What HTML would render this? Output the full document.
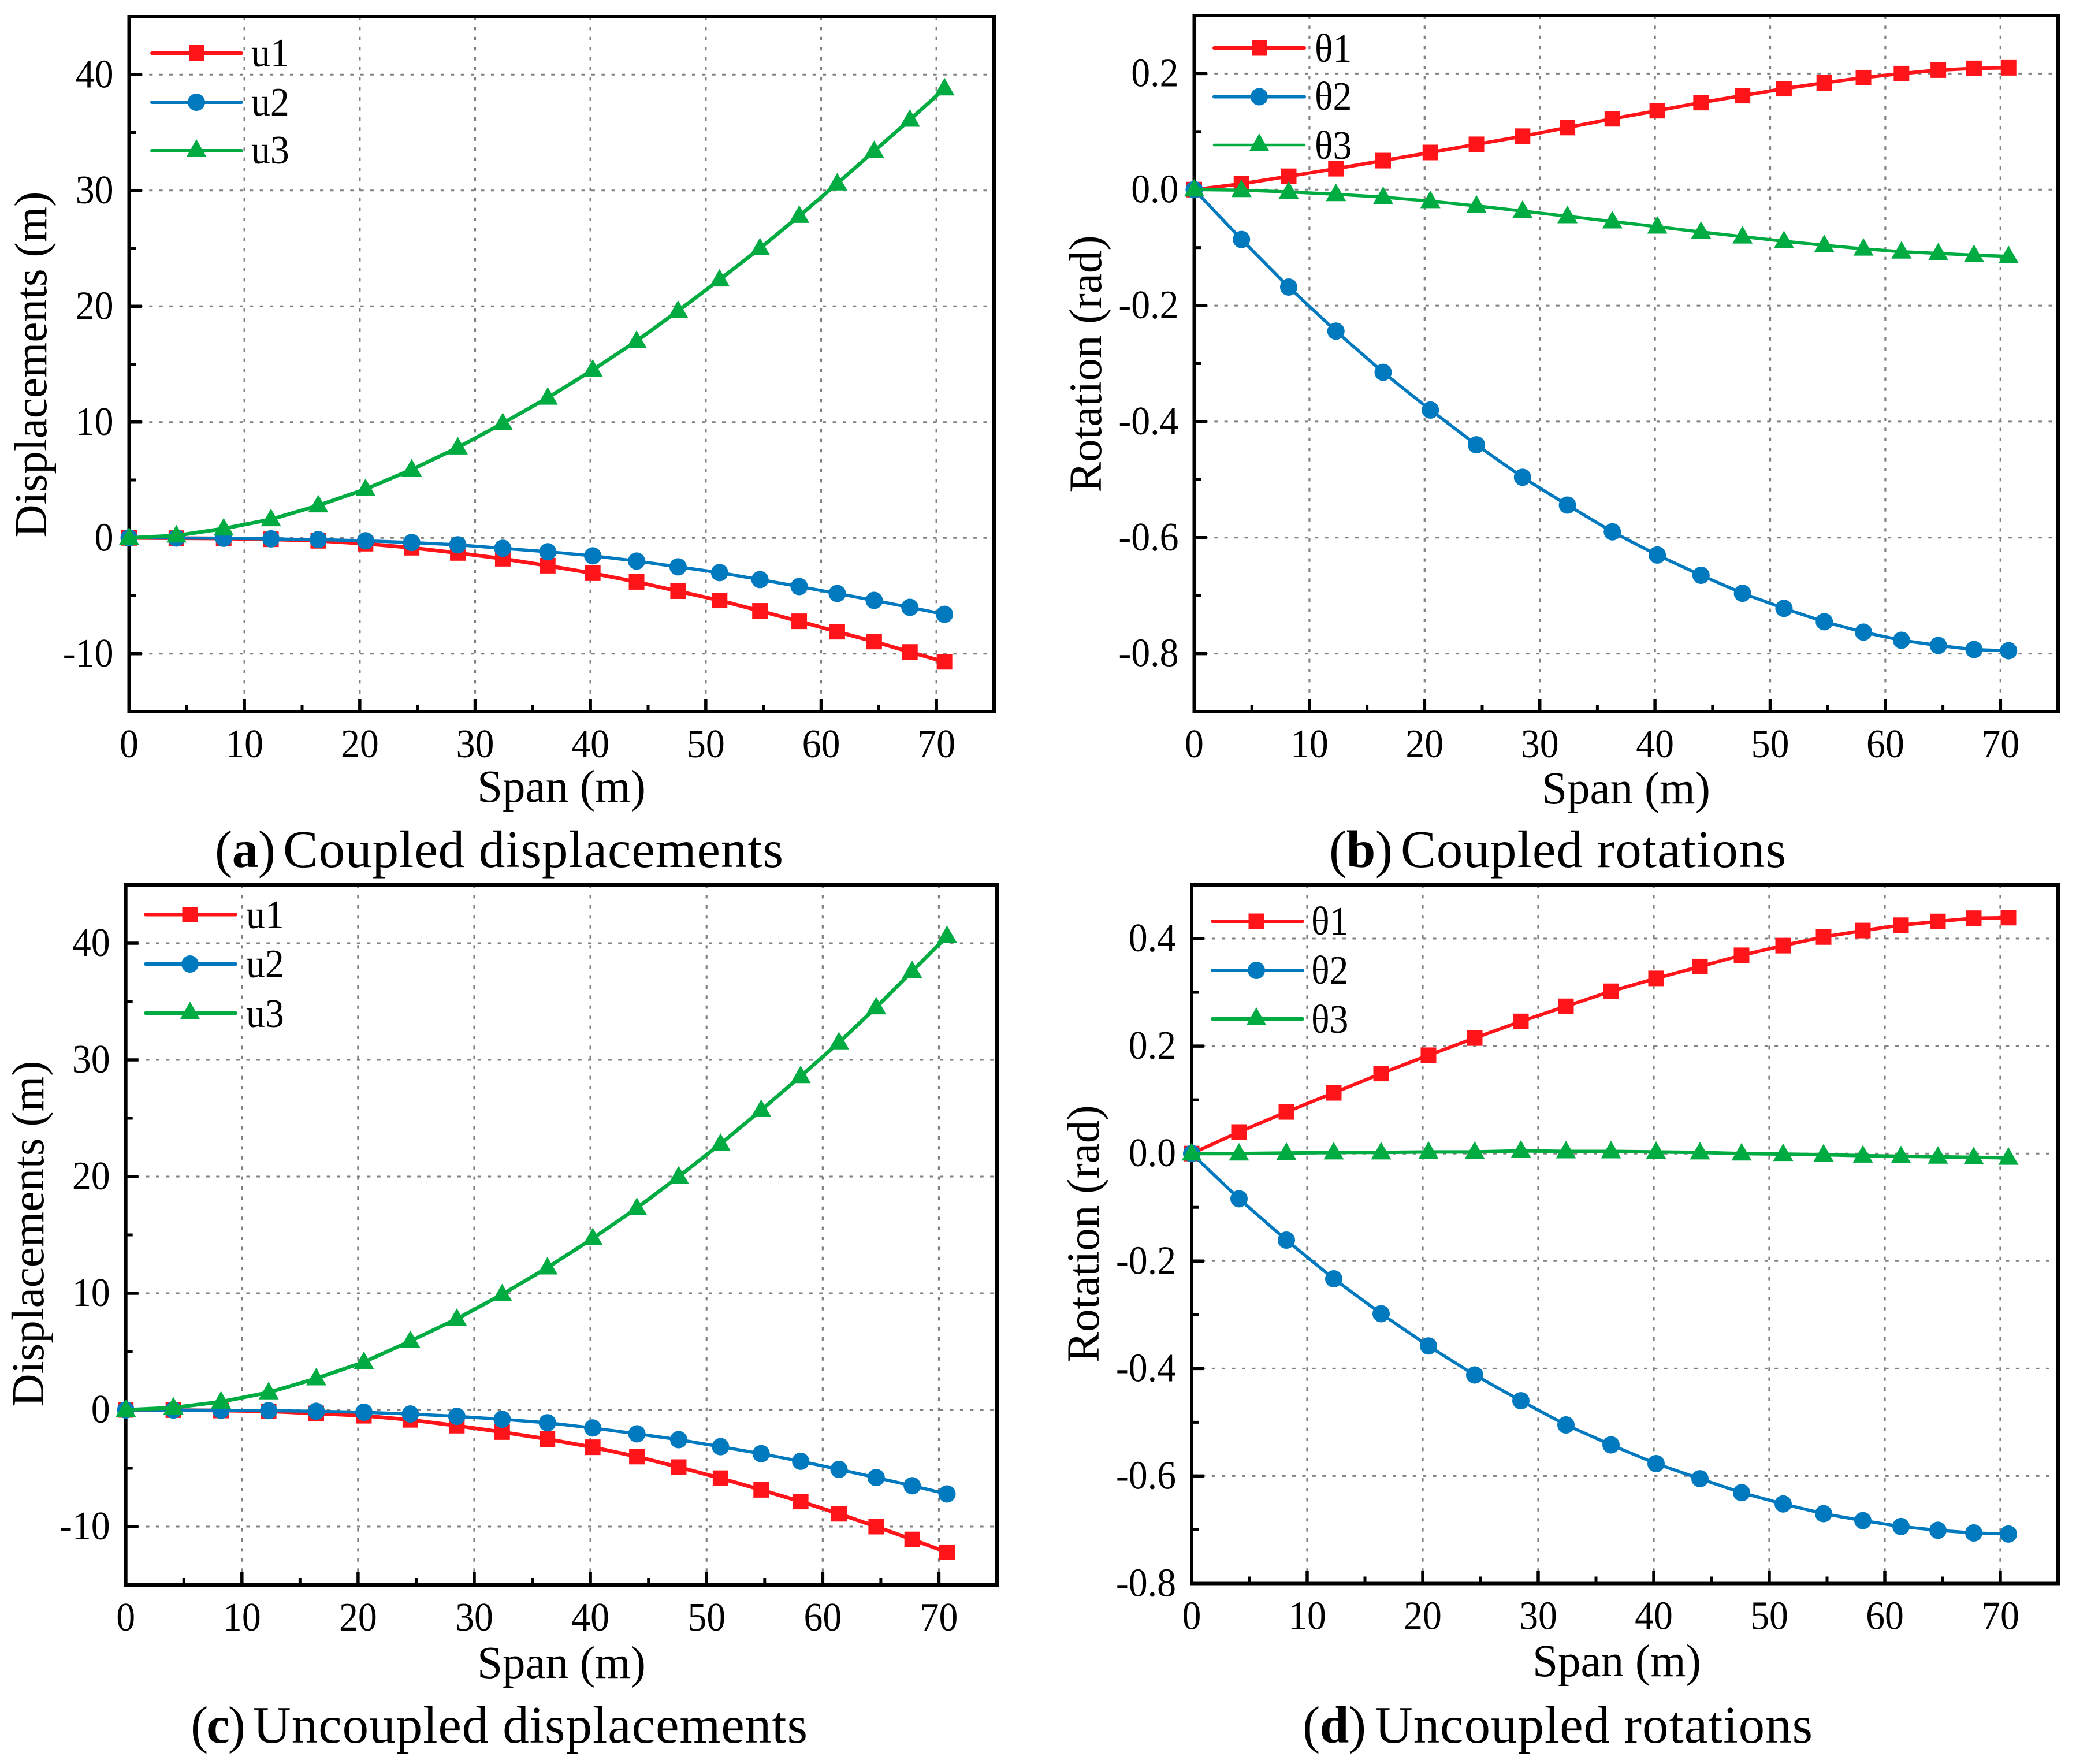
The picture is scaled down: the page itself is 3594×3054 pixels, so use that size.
<!DOCTYPE html>
<html lang="en">
<head>
<meta charset="utf-8">
<title>Coupled and uncoupled displacements and rotations</title>
<style>
html,body{margin:0;padding:0;background:#fff;}
svg{display:block;font-family:"Liberation Serif","Noto Serif CJK SC",serif;fill:#000;}
.axis-title{font-size:79px;}
.legend-text{font-size:70px;}
.caption{font-size:91px;}
</style>
</head>
<body>
<svg id="figure" xmlns="http://www.w3.org/2000/svg" width="3594" height="3054" viewBox="0 0 3594 3054">
<rect x="0" y="0" width="3594" height="3054" fill="#ffffff"/>

<g>
  <g id="a-grid"></g>
  <rect x="223.5" y="29" width="1497.5" height="1203" fill="none" stroke="#000" stroke-width="6"/>
  <g id="a-plot"></g>
  <text class="axis-title" x="972" y="1388" text-anchor="middle">Span (m)</text>
  <text class="axis-title" text-anchor="middle" transform="translate(80 631) rotate(-90)">Displacements (m)</text>
  <text class="caption" x="372" y="1501" textLength="105">(<tspan font-weight="700">a</tspan>)</text>
  <text class="caption" x="490" y="1501" textLength="866">Coupled displacements</text>
  <g>
    <g>
      <line x1="263" x2="418" y1="92" y2="92" stroke="#ff1519" stroke-width="6" stroke-linecap="round"/>
      <rect x="327" y="78" width="27" height="27" fill="#ff1519"/>
      <text class="legend-text" transform="translate(435 115) scale(.94 1)">u1</text>
    </g>
    <g>
      <line x1="263" x2="418" y1="177" y2="177" stroke="#0079bf" stroke-width="6" stroke-linecap="round"/>
      <circle cx="340" cy="177" r="15" fill="#0079bf"/>
      <text class="legend-text" transform="translate(435 200) scale(.94 1)">u2</text>
    </g>
    <g>
      <line x1="263" x2="418" y1="261" y2="261" stroke="#00ab41" stroke-width="6" stroke-linecap="round"/>
      <polygon points="340,241 357.500,272 322.500,272" fill="#00ab41"/>
      <text class="legend-text" transform="translate(435 283) scale(.94 1)">u3</text>
    </g>
  </g>
</g>

<g>
  <g id="b-grid"></g>
  <rect x="2067.5" y="27" width="1495.5" height="1205" fill="none" stroke="#000" stroke-width="6"/>
  <g id="b-plot"></g>
  <text class="axis-title" x="2815" y="1391" text-anchor="middle">Span (m)</text>
  <text class="axis-title" text-anchor="middle" transform="translate(1906 630) rotate(-90)">Rotation (rad)</text>
  <text class="caption" x="2301" y="1501" textLength="110">(<tspan font-weight="700">b</tspan>)</text>
  <text class="caption" x="2425" y="1501" textLength="667">Coupled rotations</text>
  <g>
    <g>
      <line x1="2102" x2="2258" y1="83" y2="83" stroke="#ff1519" stroke-width="6" stroke-linecap="round"/>
      <rect x="2167" y="69.500" width="27" height="27" fill="#ff1519"/>
      <text class="legend-text" transform="translate(2276 107) scale(.94 1)">θ1</text>
    </g>
    <g>
      <line x1="2102" x2="2258" y1="167.500" y2="167.500" stroke="#0079bf" stroke-width="6" stroke-linecap="round"/>
      <circle cx="2180" cy="167.500" r="15" fill="#0079bf"/>
      <text class="legend-text" transform="translate(2276 190) scale(.94 1)">θ2</text>
    </g>
    <g>
      <line x1="2102" x2="2258" y1="251" y2="251" stroke="#00ab41" stroke-width="4.500" stroke-linecap="round"/>
      <polygon points="2180,231 2197.500,262 2162.500,262" fill="#00ab41"/>
      <text class="legend-text" transform="translate(2276 275) scale(.94 1)">θ3</text>
    </g>
  </g>
</g>

<g>
  <g id="c-grid"></g>
  <rect x="217.7" y="1532" width="1508.3" height="1212" fill="none" stroke="#000" stroke-width="6"/>
  <g id="c-plot"></g>
  <text class="axis-title" x="972" y="2905" text-anchor="middle">Span (m)</text>
  <text class="axis-title" text-anchor="middle" transform="translate(75 2136) rotate(-90)">Displacements (m)</text>
  <text class="caption" x="330" y="3017" textLength="95">(<tspan font-weight="700">c</tspan>)</text>
  <text class="caption" x="438" y="3017" textLength="960">Uncoupled displacements</text>
  <g>
    <g>
      <line x1="252" x2="408" y1="1583.500" y2="1583.500" stroke="#ff1519" stroke-width="6" stroke-linecap="round"/>
      <rect x="315.500" y="1570" width="27" height="27" fill="#ff1519"/>
      <text class="legend-text" transform="translate(426 1607) scale(.94 1)">u1</text>
    </g>
    <g>
      <line x1="252" x2="408" y1="1669" y2="1669" stroke="#0079bf" stroke-width="6" stroke-linecap="round"/>
      <circle cx="329" cy="1669" r="15" fill="#0079bf"/>
      <text class="legend-text" transform="translate(426 1692) scale(.94 1)">u2</text>
    </g>
    <g>
      <line x1="252" x2="408" y1="1754" y2="1754" stroke="#00ab41" stroke-width="6" stroke-linecap="round"/>
      <polygon points="329,1734 346.500,1765 311.500,1765" fill="#00ab41"/>
      <text class="legend-text" transform="translate(426 1778) scale(.94 1)">u3</text>
    </g>
  </g>
</g>

<g>
  <g id="d-grid"></g>
  <rect x="2063" y="1532" width="1500" height="1209.500" fill="none" stroke="#000" stroke-width="6"/>
  <g id="d-plot"></g>
  <text class="axis-title" x="2799" y="2902" text-anchor="middle">Span (m)</text>
  <text class="axis-title" text-anchor="middle" transform="translate(1902 2136) rotate(-90)">Rotation (rad)</text>
  <text class="caption" x="2255" y="3017" textLength="110">(<tspan font-weight="700">d</tspan>)</text>
  <text class="caption" x="2380" y="3017" textLength="758">Uncoupled rotations</text>
  <g>
    <g>
      <line x1="2099" x2="2255" y1="1595" y2="1595" stroke="#ff1519" stroke-width="6" stroke-linecap="round"/>
      <rect x="2161.500" y="1581.500" width="27" height="27" fill="#ff1519"/>
      <text class="legend-text" transform="translate(2270 1618) scale(.94 1)">θ1</text>
    </g>
    <g>
      <line x1="2099" x2="2255" y1="1680" y2="1680" stroke="#0079bf" stroke-width="6" stroke-linecap="round"/>
      <circle cx="2175" cy="1680" r="15" fill="#0079bf"/>
      <text class="legend-text" transform="translate(2270 1703) scale(.94 1)">θ2</text>
    </g>
    <g>
      <line x1="2099" x2="2255" y1="1764" y2="1764" stroke="#00ab41" stroke-width="6" stroke-linecap="round"/>
      <polygon points="2175,1744 2192.500,1775 2157.500,1775" fill="#00ab41"/>
      <text class="legend-text" transform="translate(2270 1788) scale(.94 1)">θ3</text>
    </g>
  </g>
</g>
</svg>

<script>
// ---------- chart data ----------
const spanValues = [0,4.1,8.2,12.3,16.4,20.5,24.5,28.5,32.4,36.3,40.2,44,47.6,51.2,54.7,58.1,61.4,64.6,67.7,70.7];
const xTickValues = [0,10,20,30,40,50,60,70];
const xTickLabels = ['0','10','20','30','40','50','60','70'];
const xMinorValues = [5,15,25,35,45,55,65];

const dispTickValues = [-10,0,10,20,30,40];
const dispTickLabels = ['-10','0','10','20','30','40'];
const dispMinorValues = [-5,5,15,25,35];

const rotBTickValues = [-0.8,-0.6,-0.4,-0.2,0,0.2];
const rotBTickLabels = ['-0.8','-0.6','-0.4','-0.2','0.0','0.2'];
const rotBMinorValues = [-0.7,-0.5,-0.3,-0.1,0.1];

const rotDTickValues = [-0.8,-0.6,-0.4,-0.2,0,0.2,0.4];
const rotDTickLabels = ['-0.8','-0.6','-0.4','-0.2','0.0','0.2','0.4'];
const rotDMinorValues = [-0.7,-0.5,-0.3,-0.1,0.1,0.3];

const coupledU1 = [0,-0.02,-0.05,-0.12,-0.25,-0.5,-0.85,-1.3,-1.8,-2.4,-3.05,-3.8,-4.6,-5.4,-6.3,-7.2,-8.1,-8.95,-9.85,-10.7];
const coupledU2 = [0,-0.01,-0.03,-0.08,-0.15,-0.25,-0.4,-0.6,-0.9,-1.2,-1.55,-2.0,-2.5,-3.0,-3.6,-4.2,-4.8,-5.4,-6.0,-6.6];
const coupledU3 = [0,0.2,0.8,1.6,2.8,4.2,5.9,7.8,9.9,12.1,14.5,17.0,19.6,22.3,25.0,27.8,30.6,33.4,36.1,38.8];

const coupledTheta1 = [0,0.01,0.023,0.036,0.05,0.064,0.078,0.092,0.107,0.122,0.136,0.15,0.162,0.174,0.184,0.193,0.2,0.206,0.209,0.21];
const coupledTheta2 = [0,-0.086,-0.168,-0.244,-0.315,-0.38,-0.44,-0.496,-0.544,-0.59,-0.63,-0.665,-0.696,-0.722,-0.745,-0.763,-0.777,-0.786,-0.793,-0.795];
const coupledTheta3 = [0,-0.001,-0.004,-0.008,-0.013,-0.02,-0.028,-0.037,-0.046,-0.055,-0.064,-0.073,-0.081,-0.089,-0.096,-0.102,-0.107,-0.11,-0.113,-0.115];

const uncoupledU1 = [0,-0.02,-0.05,-0.12,-0.3,-0.5,-0.85,-1.35,-1.9,-2.5,-3.2,-4.0,-4.9,-5.85,-6.85,-7.85,-8.9,-10.0,-11.1,-12.2];
const uncoupledU2 = [0,-0.01,-0.03,-0.06,-0.12,-0.2,-0.35,-0.55,-0.8,-1.1,-1.55,-2.05,-2.55,-3.15,-3.75,-4.4,-5.1,-5.8,-6.5,-7.2];
const uncoupledU3 = [0,0.2,0.7,1.5,2.7,4.1,5.9,7.8,9.9,12.2,14.7,17.3,20.0,22.8,25.7,28.6,31.5,34.5,37.6,40.6];

const uncoupledTheta1 = [0,0.04,0.0775,0.113,0.149,0.183,0.215,0.246,0.274,0.302,0.326,0.348,0.369,0.387,0.403,0.415,0.425,0.432,0.438,0.439];
const uncoupledTheta2 = [0,-0.084,-0.161,-0.233,-0.298,-0.358,-0.412,-0.46,-0.505,-0.542,-0.577,-0.605,-0.631,-0.652,-0.67,-0.683,-0.694,-0.701,-0.706,-0.708];
const uncoupledTheta3 = [0,0,0.001,0.002,0.002,0.003,0.003,0.005,0.004,0.004,0.003,0.002,0,-0.001,-0.002,-0.004,-0.005,-0.006,-0.007,-0.008];

// ---------- drawing ----------
const NS = 'http://www.w3.org/2000/svg';
const RED = '#ff1519', BLUE = '#0079bf', GREEN = '#00ab41';

function shape(tag, attrs) {
  const el = document.createElementNS(NS, tag);
  for (const k in attrs) el.setAttribute(k, attrs[k]);
  return el;
}

function drawPanel(id, box, yMin, yMax, yTicks, yLabels, yMinor, series) {
  const gridLayer = document.getElementById(id + '-grid');
  const plotLayer = document.getElementById(id + '-plot');
  const xScale = v => box.left + (v / 75) * (box.right - box.left);
  const yScale = v => box.bottom - ((v - yMin) / (yMax - yMin)) * (box.bottom - box.top);

  // grid
  xTickValues.slice(1).forEach(v => {
    const el = shape('line', {x1: xScale(v), x2: xScale(v), y1: box.top, y2: box.bottom, stroke: '#808080', 'stroke-width': 3.2, 'stroke-dasharray': '6 11.4'});
    
    
    gridLayer.appendChild(el);
  });
  yTicks.forEach(v => {
    const el = shape('line', {x1: box.left, x2: box.right, y1: yScale(v), y2: yScale(v), stroke: '#808080', 'stroke-width': 3, 'stroke-dasharray': '6 11.4'});
    
    
    gridLayer.appendChild(el);
  });

  // x ticks
  xTickValues.forEach((v, i) => {
    const t = shape('line', {x1: xScale(v), x2: xScale(v), y1: box.bottom, y2: box.bottom - 22, stroke: '#000', 'stroke-width': 5.5});
    
    
    plotLayer.appendChild(t);
    const lab = shape('text', {transform: 'translate(' + xScale(v) + ' ' + (box.bottom + 79) + ') scale(.94 1)', 'text-anchor': 'middle', 'font-size': 70});
    
    
    lab.textContent = xTickLabels[i];
    plotLayer.appendChild(lab);
  });
  xMinorValues.forEach(v => {
    const t = shape('line', {x1: xScale(v), x2: xScale(v), y1: box.bottom, y2: box.bottom - 12, stroke: '#000', 'stroke-width': 5});
    
    
    plotLayer.appendChild(t);
  });

  // y ticks
  yTicks.forEach((v, i) => {
    const t = shape('line', {x1: box.left, x2: box.left + 22, y1: yScale(v), y2: yScale(v), stroke: '#000', 'stroke-width': 5.5});
    
    
    plotLayer.appendChild(t);
    const lab = shape('text', {transform: 'translate(' + (box.left - 27) + ' ' + (yScale(v) + 22) + ') scale(.94 1)', 'text-anchor': 'end', 'font-size': 70});
    
    
    lab.textContent = yLabels[i];
    plotLayer.appendChild(lab);
  });
  yMinor.forEach(v => {
    const t = shape('line', {x1: box.left, x2: box.left + 12, y1: yScale(v), y2: yScale(v), stroke: '#000', 'stroke-width': 5});
    
    
    plotLayer.appendChild(t);
  });

  // series
  series.forEach(s => {
    const pts = s.values.map((v, i) => xScale(spanValues[i]).toFixed(1) + ',' + yScale(v).toFixed(1)).join(' ');
    const line = shape('polyline', {points: pts, fill: 'none', stroke: s.color, 'stroke-width': s.width, 'stroke-linejoin': 'round', 'stroke-linecap': 'round'});
    
    
    plotLayer.appendChild(line);
    s.values.forEach((v, i) => {
      const cx = xScale(spanValues[i]), cy = yScale(v);
      let m;
      if (s.marker === 'square') {
        m = shape('rect', {x: cx - 13.5, y: cy - 13.5, width: 27, height: 27, fill: s.color});
      } else if (s.marker === 'circle') {
        m = shape('circle', {cx: cx, cy: cy, r: 15, fill: s.color});
      } else {
        m = shape('polygon', {points: cx + ',' + (cy - 18.5) + ' ' + (cx + 17.5) + ',' + (cy + 12) + ' ' + (cx - 17.5) + ',' + (cy + 12), fill: s.color});
      }
      
      
      plotLayer.appendChild(m);
    });
  });
}

drawPanel('a', {left: 223.5, right: 1721, top: 29, bottom: 1232}, -15, 45, dispTickValues, dispTickLabels, dispMinorValues, [
  {name: 'u1', values: coupledU1, color: RED, width: 6.5, marker: 'square'},
  {name: 'u2', values: coupledU2, color: BLUE, width: 5.5, marker: 'circle'},
  {name: 'u3', values: coupledU3, color: GREEN, width: 6.5, marker: 'triangle'}
]);
drawPanel('b', {left: 2067.5, right: 3563, top: 27, bottom: 1232}, -0.9, 0.3, rotBTickValues, rotBTickLabels, rotBMinorValues, [
  {name: 'theta1', values: coupledTheta1, color: RED, width: 6, marker: 'square'},
  {name: 'theta2', values: coupledTheta2, color: BLUE, width: 5.5, marker: 'circle'},
  {name: 'theta3', values: coupledTheta3, color: GREEN, width: 5.5, marker: 'triangle'}
]);
drawPanel('c', {left: 217.7, right: 1726, top: 1532, bottom: 2744}, -15, 45, dispTickValues, dispTickLabels, dispMinorValues, [
  {name: 'u1', values: uncoupledU1, color: RED, width: 6.5, marker: 'square'},
  {name: 'u2', values: uncoupledU2, color: BLUE, width: 5.5, marker: 'circle'},
  {name: 'u3', values: uncoupledU3, color: GREEN, width: 6.5, marker: 'triangle'}
]);
drawPanel('d', {left: 2063, right: 3563, top: 1532, bottom: 2741.5}, -0.8, 0.5, rotDTickValues, rotDTickLabels, rotDMinorValues, [
  {name: 'theta1', values: uncoupledTheta1, color: RED, width: 6, marker: 'square'},
  {name: 'theta2', values: uncoupledTheta2, color: BLUE, width: 5.5, marker: 'circle'},
  {name: 'theta3', values: uncoupledTheta3, color: GREEN, width: 6, marker: 'triangle'}
]);
</script>
</body>
</html>
